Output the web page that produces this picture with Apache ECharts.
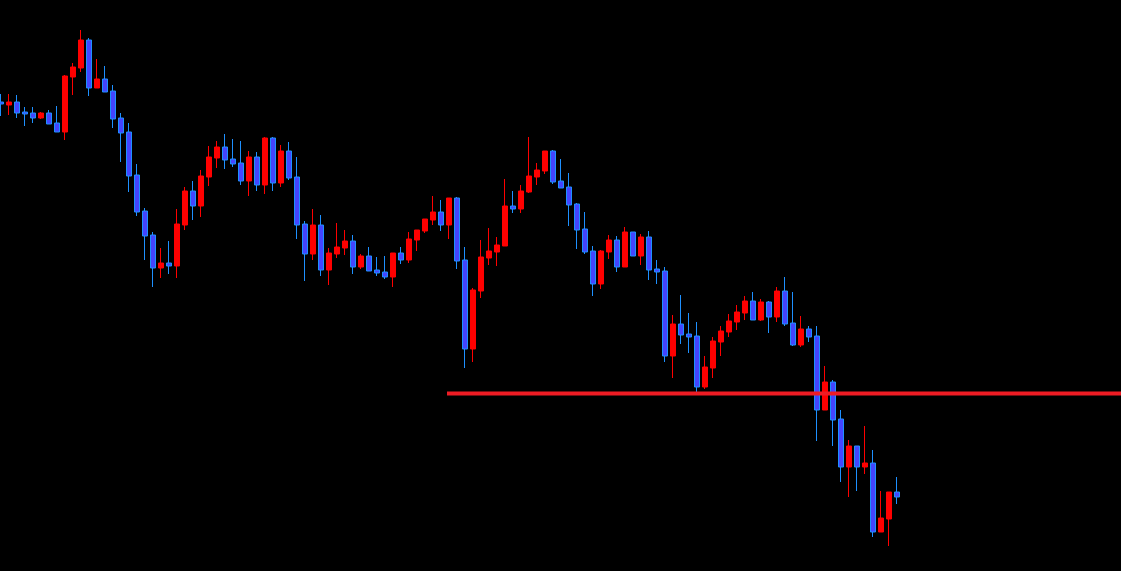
<!DOCTYPE html>
<html>
<head>
<meta charset="utf-8">
<title>Candles</title>
<script src="https://cdn.jsdelivr.net/npm/echarts@6/dist/echarts.min.js"></script>
<style>
html, body { margin: 0; padding: 0; background: #000; }
#chart { width: 1121px; height: 571px; }
</style>
</head>
<body>
<div id="chart"></div>
<script>
// price values (arbitrary units, higher = up)
var opens = [469,466,469,459,458,453,458,448,439,494,503,531,483,492,480,453,439,396,360,336,
  303,308,305,346,380,365,394,413,424,412,408,390,414,386,433,388,420,394,347,317,
  346,301,317,323,330,304,315,301,299,294,318,311,331,340,351,359,346,373,311,222,
  280,313,319,325,365,362,379,394,400,420,390,384,367,342,320,287,319,331,304,339,
  315,334,302,300,215,247,237,235,184,203,229,239,249,258,270,251,269,254,280,248,
  226,242,235,161,189,152,104,125,104,108,39,52,79];
var closes = [467,469,458,457,453,458,447,439,495,504,531,483,492,479,452,438,395,359,335,303,
  308,305,347,380,365,395,414,424,411,407,390,414,386,433,388,420,393,346,317,346,
  301,318,324,330,304,315,300,298,294,318,311,332,341,352,359,346,373,310,222,281,
  314,320,326,365,362,380,395,401,420,389,383,366,341,319,287,320,331,304,339,315,
  334,301,299,215,247,236,234,184,204,230,240,250,259,270,251,269,254,280,247,226,
  242,234,161,189,151,104,125,104,108,39,53,79,74];
var lows = [455,456,453,445,448,452,447,439,431,476,499,475,483,479,443,409,379,355,311,284,
  293,297,293,341,351,354,385,403,402,404,386,375,380,377,380,384,391,332,290,311,
  295,286,313,316,297,302,300,295,292,284,307,308,320,338,346,340,332,302,203,209,
  273,306,305,325,358,358,378,386,397,387,383,345,322,317,275,282,312,299,304,315,
  306,291,287,209,193,227,218,179,182,193,215,234,241,251,251,250,238,249,245,225,
  224,229,130,161,125,89,74,80,97,34,39,25,67];
var highs = [477,477,476,464,464,459,461,465,496,508,541,533,512,505,486,458,448,407,363,339,
  323,330,362,384,390,401,425,430,437,432,430,420,419,434,434,426,429,414,350,362,
  356,323,348,341,336,317,324,314,315,318,324,339,341,352,375,371,373,374,324,283,
  331,343,334,392,380,386,434,408,420,421,412,398,368,359,325,321,336,335,344,339,
  337,340,311,304,256,276,258,249,215,234,245,257,266,275,279,272,270,284,294,279,
  255,245,245,205,191,161,131,125,145,121,80,79,94];

// horizontal level drawn across the right part
var levelPrice = 177.5;
var levelFrom = 55.75;   // bar index where the line begins
var levelTo = 140;

var slots = 141;   // bars visible in the window, incl. empty space on the right
var categories = [];
for (var i = 0; i < slots; i++) categories.push(String(i));

var candles = [];
for (var j = 0; j < opens.length; j++) {
  candles.push([opens[j], closes[j], lows[j], highs[j]]);
}

var myChart = echarts.init(document.getElementById('chart'));
myChart.setOption({
  backgroundColor: '#000000',
  animation: false,
  grid: { left: 1, right: 0, top: 0, bottom: 0 },
  xAxis: [
    { type: 'category', data: categories, show: false, boundaryGap: false },
    { type: 'value', min: 0, max: slots - 1, show: false }
  ],
  yAxis: { type: 'value', min: 0, max: 571, show: false },
  series: [
    {
      type: 'candlestick',
      xAxisIndex: 0,
      data: candles,
      barWidth: 5,
      clip: false,
      itemStyle: {
        color: '#ff0000',
        color0: '#4444ff',
        borderColor: '#ff0000',
        borderColor0: '#1e90ff',
        borderColorDoji: '#1e90ff',
        borderWidth: 1
      }
    },
    {
      type: 'line',
      xAxisIndex: 1,
      data: [[levelFrom, levelPrice], [levelTo, levelPrice]],
      symbol: 'none',
      lineStyle: { color: '#ee1c24', width: 4 },
      z: 5
    }
  ]
});
window.addEventListener('resize', function () { myChart.resize(); });
</script>
</body>
</html>
